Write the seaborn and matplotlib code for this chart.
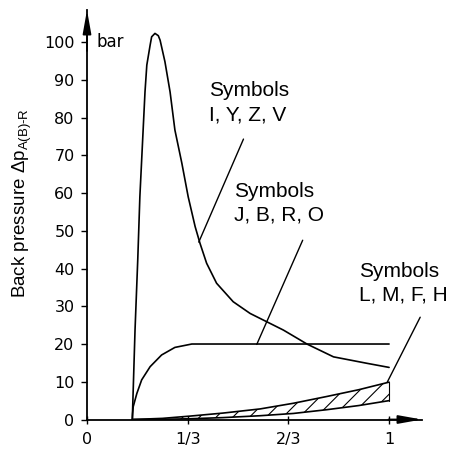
import matplotlib
matplotlib.use("Agg")
import matplotlib.pyplot as plt
import seaborn as sns
import numpy as np

# ---- data ----
# Curve "Symbols I, Y, Z, V"
x_iyzv = [0.150, 0.159, 0.168, 0.175, 0.186, 0.192, 0.198, 0.209, 0.214, 0.225,
          0.236, 0.242, 0.258, 0.275, 0.291, 0.314, 0.335, 0.358, 0.374, 0.396,
          0.429, 0.484, 0.540, 0.595, 0.650, 0.705, 0.728, 0.816, 0.926, 1.0]
y_iyzv = [0, 23.7, 42.3, 59.0, 77.0, 86.8, 93.9, 99.2, 101.4, 102.3,
          101.7, 100.5, 94.8, 86.8, 76.7, 67.9, 59.0, 51.1, 46.7, 41.4,
          36.1, 31.2, 28.1, 25.9, 23.7, 21.1, 20.0, 16.6, 14.9, 13.8]
# Curve "Symbols J, B, R, O"
x_jbro = [0.150, 0.151, 0.153, 0.165, 0.181, 0.209, 0.247, 0.291, 0.347, 1.0]
y_jbro = [0, 1.5, 3.4, 6.9, 10.5, 14.0, 17.1, 19.1, 20.0, 20.0]
# Band "Symbols L, M, F, H"
x_lmfh = [0.15, 0.25, 0.341, 0.45, 0.573, 0.683, 0.794, 0.90, 1.0]
y_lmfh_upper = [0, 0.3, 0.9, 1.7, 2.8, 4.3, 6.1, 7.9, 9.9]
y_lmfh_lower = [0, 0.05, 0.2, 0.5, 1.0, 1.6, 2.6, 3.7, 5.0]

x_ticks = [0, 1/3, 2/3, 1]
x_ticklabels = ["0", "1/3", "2/3", "1"]
y_ticks = [0, 10, 20, 30, 40, 50, 60, 70, 80, 90, 100]

labels = ["Symbols\nI, Y, Z, V", "Symbols\nJ, B, R, O", "Symbols\nL, M, F, H"]
label_pos = [(0.405, 89.6), (0.488, 63.0), (0.900, 41.8)]
leader_start = [(0.518, 74.3), (0.714, 47.5), (1.103, 27.1)]
leader_end = [(0.370, 47.0), (0.562, 19.9), (0.994, 9.9)]

# ---- figure ----
sns.set_style("ticks")
plt.rcParams["font.family"] = ["Liberation Sans", "DejaVu Sans"]
plt.rcParams["mathtext.default"] = "regular"
plt.rcParams["hatch.linewidth"] = 0.8
for k in ("text.color", "axes.labelcolor", "xtick.color", "ytick.color", "axes.edgecolor"):
    plt.rcParams[k] = "black"

fig = plt.figure(figsize=(4.5, 4.55), dpi=100)
ax = fig.add_axes([87 / 450, 35.5 / 455, 335 / 450, 409.5 / 455])

lw = 1.2
kw = dict(ax=ax, color="black", lw=lw, estimator=None, sort=False)
sns.lineplot(x=x_iyzv, y=y_iyzv, **kw)
sns.lineplot(x=x_jbro, y=y_jbro, **kw)
sns.lineplot(x=x_lmfh, y=y_lmfh_upper, **kw)
sns.lineplot(x=x_lmfh, y=y_lmfh_lower, **kw)
ax.fill_between(x_lmfh, y_lmfh_lower, y_lmfh_upper, facecolor="none",
                edgecolor="black", hatch="//", lw=0)
ax.plot([x_lmfh[-1], x_lmfh[-1]], [y_lmfh_lower[-1], y_lmfh_upper[-1]], color="black", lw=0.8)

ax.set_xlim(0, 1.109)
ax.set_ylim(0, 108.5)
ax.set_xticks(x_ticks)
ax.set_xticklabels(x_ticklabels)
ax.set_yticks(y_ticks)
for t in ax.get_xticklabels() + ax.get_yticklabels():
    t.set_fontfamily("DejaVu Sans")
    t.set_fontsize(11.5)
    t.set_color("black")
ax.tick_params(axis="x", direction="inout", length=6, width=1.0, pad=6, colors="black")
ax.tick_params(axis="y", direction="out", length=4, width=1.0, pad=5, colors="black")

sns.despine(ax=ax, top=True, right=True)
for s in ("left", "bottom"):
    ax.spines[s].set_linewidth(1.3)
    ax.spines[s].set_color("black")

ap = dict(arrowstyle="-|>,head_length=1.4,head_width=0.25", color="black",
          lw=1.3, shrinkA=0, shrinkB=0)
ax.annotate("", xy=(1, 0), xycoords="axes fraction", xytext=(0.9, 0), arrowprops=ap)
ax.annotate("", xy=(0, 1), xycoords="axes fraction", xytext=(0, 0.9), arrowprops=ap)

ax.text(0.033, 100, "bar", fontfamily="DejaVu Sans", fontsize=12, va="center", ha="left",
        color="black")

for lab, (tx, ty), s, e in zip(labels, label_pos, leader_start, leader_end):
    ax.text(tx, ty, lab, fontsize=15, ha="left", va="top", linespacing=1.33, color="black")
    ax.annotate("", xy=e, xytext=s, arrowprops=dict(arrowstyle="-", color="black",
                                                     lw=1.0, shrinkA=0, shrinkB=0))

fig.text(22 / 450, 1 - 203 / 455, "Back pressure Δp$_{A(B)\u2010R}$", rotation=90,
         fontsize=13.5, ha="center", va="center", color="black")

fig.savefig("out.png", dpi=100)
